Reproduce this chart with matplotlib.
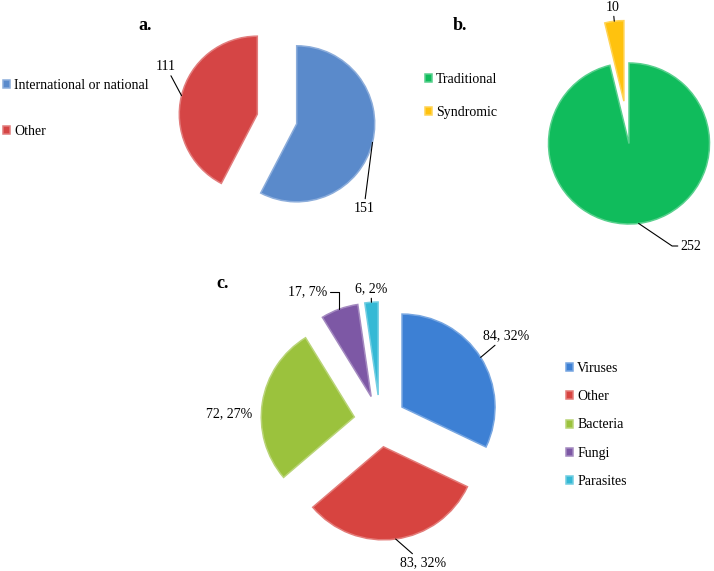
import matplotlib.pyplot as plt
import matplotlib.colors as mcolors
import numpy as np

plt.rcParams['font.family'] = ['Liberation Serif', 'DejaVu Serif']

W, H = 714, 571

# a. reference method
a_labels = ['International or national', 'Other']
a_values = [151, 111]
a_colors = ['#5A8ACB', '#D54545']

# b. testing approach
b_labels = ['Traditional', 'Syndromic']
b_values = [252, 10]
b_colors = ['#10BC5C', '#FFC20E']

# c. pathogen group
c_labels = ['Viruses', 'Other', 'Bacteria', 'Fungi', 'Parasites']
c_values = [84, 83, 72, 17, 6]
c_pcts = [32, 32, 27, 7, 2]
c_colors = ['#3D80D4', '#D74440', '#9BC23D', '#7D58A5', '#35B9D5']

fig = plt.figure(figsize=(W / 100, H / 100), dpi=100)
LIM = 1.8


def lighten(c, f=0.3):
    r, g, b = mcolors.to_rgb(c)
    return (r + (1 - r) * f, g + (1 - g) * f, b + (1 - b) * f)


def draw_pie(cx, cy, r, values, colors, explode, texts, spots):
    # axes sized so that one data unit == r pixels, centred on (cx, cy)
    half = LIM * r
    ax = fig.add_axes([(cx - half) / W, 1 - (cy + half) / H, 2 * half / W, 2 * half / H])
    wedges, _ = ax.pie(values, colors=colors, explode=explode, startangle=90,
                       counterclock=False, wedgeprops=dict(linewidth=1.1))
    for w, c in zip(wedges, colors):
        w.set_edgecolor(lighten(c))
    ax.set_xlim(-LIM, LIM)
    ax.set_ylim(-LIM, LIM)
    ax.set_aspect('equal')

    for w, t, spot in zip(wedges, texts, spots):
        px, py, ha, va, conn = spot
        mid = np.deg2rad((w.theta1 + w.theta2) / 2)
        edge = (w.center[0] + w.r * np.cos(mid), w.center[1] + w.r * np.sin(mid))
        pos = ((px - cx) / r, (cy - py) / r)
        arrow = None
        if conn is not None:
            arrow = dict(arrowstyle='-', color='black', lw=0.8,
                         connectionstyle=conn, shrinkA=0, shrinkB=0)
        ax.annotate(t, xy=edge, xytext=pos, ha=ha, va=va, fontsize=10,
                    arrowprops=arrow)
    return ax, wedges


def add_legend(ax, wedges, labels, x, y, spacing):
    ax.legend(wedges, labels, loc='center left', bbox_to_anchor=(x / W, 1 - y / H),
              bbox_transform=fig.transFigure, frameon=False, fontsize=10,
              handlelength=0.5, handleheight=0.5, handletextpad=0.3,
              labelspacing=spacing, borderpad=0, borderaxespad=0)


# panel a
ax_a, w_a = draw_pie(277, 119, 78, a_values, a_colors, [0.26, 0.26],
                     [str(v) for v in a_values],
                     [(364, 208, 'center', 'center', 'arc3'),
                      (176, 73, 'right', 'bottom', 'arc3')])
add_legend(ax_a, w_a, a_labels, 3, 108.5, 2.4)
fig.text(145 / W, 1 - 25 / H, 'a.', fontsize=13, fontweight='bold', ha='center', va='center')

# panel b
ax_b, w_b = draw_pie(629, 143.5, 80.5, b_values, b_colors, [0, 0.53],
                     [str(v) for v in b_values],
                     [(691, 246, 'center', 'center', 'angle,angleA=180,angleB=-34,rad=0'),
                      (613, 7, 'center', 'center', 'arc3')])
add_legend(ax_b, w_b, b_labels, 425, 96, 1.4)
fig.text(460 / W, 1 - 25 / H, 'b.', fontsize=13, fontweight='bold', ha='center', va='center')

# panel c
ax_c, w_c = draw_pie(380, 421, 93, c_values, c_colors, [0.28] * 5,
                     [f'{v}, {p}%' for v, p in zip(c_values, c_pcts)],
                     [(506, 336, 'center', 'center', 'arc3'),
                      (423, 563, 'center', 'center', 'arc3'),
                      (229, 414, 'center', 'center', None),
                      (308, 292, 'center', 'center', 'angle,angleA=0,angleB=90,rad=0'),
                      (371, 289, 'center', 'center', 'arc3')])
add_legend(ax_c, w_c, c_labels, 566, 425, 1.1)
fig.text(223 / W, 1 - 283 / H, 'c.', fontsize=13, fontweight='bold', ha='center', va='center')

fig.savefig('out.png', dpi=100)
